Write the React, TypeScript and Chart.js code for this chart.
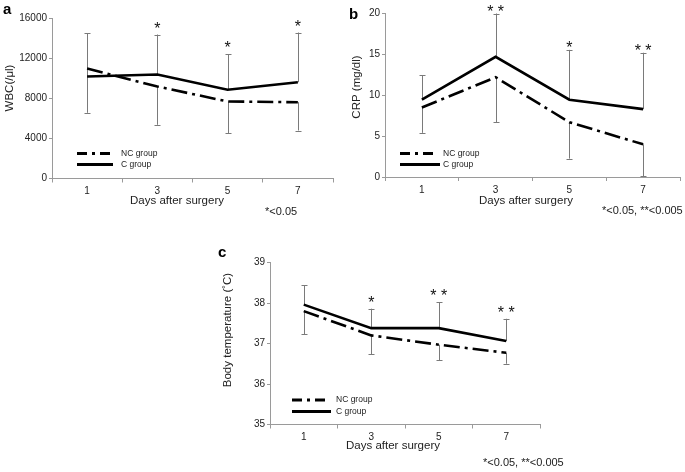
import { useEffect, useRef } from 'react';
import { Chart, registerables } from 'chart.js';

Chart.register(...registerables);
Chart.defaults.font.family = '"Liberation Sans", Arial, sans-serif';

// ---- data ----
const days = ['1', '3', '5', '7'];
const groupNames = ['NC group', 'C group'];

// a: WBC
const wbcTicks = [0, 4000, 8000, 12000, 16000];
const wbcNC = [11000, 9200, 7700, 7630];
const wbcC = [10200, 10400, 8870, 9630];
const wbcNCSD = [4430, 3830, 3170, 2830];
const wbcCSD = [4330, 4000, 3560, 4970];
const wbcSig = ['', '*', '*', '*'];

// b: CRP
const crpTicks = [0, 5, 10, 15, 20];
const crpNC = [8.5, 12.2, 6.7, 4.0];
const crpC = [9.45, 14.7, 9.45, 8.3];
const crpNCSD = [3.1, 5.5, 4.45, 3.9];
const crpCSD = [3.0, 5.3, 6.1, 6.9];
const crpSig = ['', '**', '*', '**'];

// c: Body temperature
const tempTicks = [35, 36, 37, 38, 39];
const tempNC = [37.8, 37.2, 36.97, 36.77];
const tempC = [37.96, 37.38, 37.38, 37.06];
const tempNCSD = [0.57, 0.47, 0.38, 0.27];
const tempCSD = [0.48, 0.48, 0.64, 0.55];
const tempSig = ['', '*', '**', '**'];

const W = 685;
const H = 472;
const FONT = '"Liberation Sans", Arial, sans-serif';
const AXIS_GREY = '#9a9a9a';
const ERR_GREY = '#7a7a7a';
const TEXT = '#222';
const NC_DASH = [16, 5, 3, 5];
const NC_LEG_DASH = [10, 5, 3, 5];

type Panel = {
  tag: string;
  nc: number[];
  c: number[];
  ncSD: number[];
  cSD: number[];
  sig: string[];
  ticks: number[];
  yTitle: string;
  note: string;
  area: { l: number; t: number; r: number; b: number };
  yTitlePos: [number, number];
  xTitlePos: [number, number];
  notePos: [number, number];
  tagPos: [number, number];
  legend: { x1: number; x2: number; tx: number; y: number; gap: number };
  sigGap: number;
};

const panels: Panel[] = [
  {
    tag: 'a', nc: wbcNC, c: wbcC, ncSD: wbcNCSD, cSD: wbcCSD, sig: wbcSig, ticks: wbcTicks,
    yTitle: 'WBC(/μl)', note: '*<0.05',
    area: { l: 52, t: 18.5, r: 333, b: 178.5 },
    yTitlePos: [10, 88], xTitlePos: [177, 201], notePos: [265, 211.5], tagPos: [3, 10],
    legend: { x1: 77, x2: 110, tx: 121, y: 153.5, gap: 11 }, sigGap: 10,
  },
  {
    tag: 'b', nc: crpNC, c: crpC, ncSD: crpNCSD, cSD: crpCSD, sig: crpSig, ticks: crpTicks,
    yTitle: 'CRP (mg/dl)', note: '*<0.05, **<0.005',
    area: { l: 385, t: 13.5, r: 680, b: 177 },
    yTitlePos: [357, 87], xTitlePos: [526, 201], notePos: [602, 211], tagPos: [349, 15],
    legend: { x1: 400, x2: 437, tx: 443, y: 153.5, gap: 11 }, sigGap: 6,
  },
  {
    tag: 'c', nc: tempNC, c: tempC, ncSD: tempNCSD, cSD: tempCSD, sig: tempSig, ticks: tempTicks,
    yTitle: 'Body temperature (˚C)', note: '*<0.05, **<0.005',
    area: { l: 270, t: 262.5, r: 540, b: 424.5 },
    yTitlePos: [228, 330], xTitlePos: [393, 446], notePos: [483, 463], tagPos: [218, 253],
    legend: { x1: 292, x2: 328, tx: 336, y: 400, gap: 11.5 }, sigGap: 10,
  },
];

function makeConfig(p: Panel): any {
  const YW = 40;
  const XH = 30;
  const deco = {
    id: 'deco' + p.tag,
    beforeDatasetsDraw(chart: any) {
      const ctx = chart.ctx;
      const xs = chart.scales.x;
      const ys = chart.scales.y;
      ctx.save();
      ctx.strokeStyle = ERR_GREY;
      ctx.lineWidth = 1;
      for (let i = 0; i < days.length; i++) {
        const x = Math.round(xs.getPixelForValue(i)) + 0.5;
        const c0 = ys.getPixelForValue(p.c[i]);
        const cTop = ys.getPixelForValue(p.c[i] + p.cSD[i]);
        const n0 = ys.getPixelForValue(p.nc[i]);
        const nBot = ys.getPixelForValue(p.nc[i] - p.ncSD[i]);
        ctx.beginPath();
        ctx.moveTo(x, c0);
        ctx.lineTo(x, cTop);
        ctx.moveTo(x - 3, Math.round(cTop) + 0.5);
        ctx.lineTo(x + 3, Math.round(cTop) + 0.5);
        ctx.moveTo(x, n0);
        ctx.lineTo(x, nBot);
        ctx.moveTo(x - 3, Math.round(nBot) + 0.5);
        ctx.lineTo(x + 3, Math.round(nBot) + 0.5);
        ctx.stroke();
      }
      ctx.restore();
    },
    afterDraw(chart: any) {
      const ctx = chart.ctx;
      const xs = chart.scales.x;
      const ys = chart.scales.y;
      ctx.save();
      // significance marks
      ctx.fillStyle = '#111';
      ctx.font = `16px ${FONT}`;
      ctx.textAlign = 'center';
      ctx.textBaseline = 'alphabetic';
      for (let i = 0; i < days.length; i++) {
        if (!p.sig[i]) continue;
        const x = xs.getPixelForValue(i);
        const top = ys.getPixelForValue(p.c[i] + p.cSD[i]);
        const txt = p.sig[i].split('').join(' ');
        ctx.fillText(txt, x, top - p.sigGap + 9);
      }
      // legend
      const ds = chart.data.datasets;
      ctx.font = `8.5px ${FONT}`;
      ctx.textAlign = 'left';
      ctx.textBaseline = 'middle';
      ds.forEach((d: any, k: number) => {
        const y = p.legend.y + k * p.legend.gap;
        ctx.save();
        ctx.strokeStyle = '#000';
        ctx.lineWidth = 3;
        ctx.setLineDash(k === 0 ? NC_LEG_DASH : []);
        ctx.beginPath();
        ctx.moveTo(p.legend.x1, y);
        ctx.lineTo(k === 0 ? p.legend.x2 : p.legend.x2 + 3, y);
        ctx.stroke();
        ctx.restore();
        ctx.fillStyle = TEXT;
        ctx.fillText(d.label, p.legend.tx, y);
      });
      // axis titles
      ctx.font = `11.5px ${FONT}`;
      ctx.fillStyle = TEXT;
      ctx.textAlign = 'center';
      ctx.textBaseline = 'middle';
      ctx.fillText('Days after surgery', p.xTitlePos[0], p.xTitlePos[1]);
      ctx.save();
      ctx.translate(p.yTitlePos[0], p.yTitlePos[1]);
      ctx.rotate(-Math.PI / 2);
      ctx.fillText(p.yTitle, 0, 0);
      ctx.restore();
      // note
      ctx.font = `11px ${FONT}`;
      ctx.textAlign = 'left';
      ctx.fillText(p.note, p.notePos[0], p.notePos[1]);
      // panel tag
      ctx.font = `bold 15px ${FONT}`;
      ctx.fillStyle = '#000';
      ctx.fillText(p.tag, p.tagPos[0], p.tagPos[1]);
      ctx.restore();
    },
  };

  return {
    type: 'line',
    data: {
      labels: days,
      datasets: [
        {
          label: groupNames[0], data: p.nc, borderColor: '#000', borderWidth: 2.6,
          borderDash: NC_DASH, pointRadius: 0, tension: 0, fill: false,
        },
        {
          label: groupNames[1], data: p.c, borderColor: '#000', borderWidth: 2.6,
          pointRadius: 0, tension: 0, fill: false,
        },
      ],
    },
    options: {
      responsive: false,
      animation: false,
      events: [],
      layout: {
        padding: {
          left: p.area.l - YW,
          top: p.area.t,
          right: W - p.area.r,
          bottom: H - p.area.b - XH,
        },
      },
      plugins: { legend: { display: false }, tooltip: { enabled: false }, title: { display: false } },
      scales: {
        x: {
          type: 'category',
          offset: true,
          grid: { display: true, offset: true, drawOnChartArea: false, drawTicks: true, tickLength: 4, color: AXIS_GREY },
          border: { display: true, color: AXIS_GREY, width: 1 },
          ticks: { color: TEXT, font: { size: 10 }, padding: 3, maxRotation: 0 },
          afterFit: (s: any) => { s.height = XH; },
        },
        y: {
          min: p.ticks[0],
          max: p.ticks[p.ticks.length - 1],
          afterBuildTicks: (s: any) => { s.ticks = p.ticks.map((v) => ({ value: v })); },
          grid: { display: true, drawOnChartArea: false, drawTicks: true, tickLength: 3, color: AXIS_GREY },
          border: { display: true, color: AXIS_GREY, width: 1 },
          ticks: { color: TEXT, font: { size: 10 }, padding: 2, callback: (v: any) => String(v) },
          afterFit: (s: any) => { s.width = YW; },
        },
      },
    },
    plugins: [deco],
  };
}

function PanelChart({ p }: { p: Panel }) {
  const ref = useRef<HTMLCanvasElement | null>(null);
  useEffect(() => {
    if (!ref.current) return;
    const chart = new Chart(ref.current, makeConfig(p));
    return () => chart.destroy();
  }, [p]);
  return (
    <canvas
      ref={ref}
      width={W}
      height={H}
      style={{ position: 'absolute', left: 0, top: 0, width: W, height: H }}
    />
  );
}

export default function App() {
  return (
    <div style={{ position: 'absolute', left: 0, top: 0, width: W, height: H, background: '#fff' }}>
      {panels.map((p) => (
        <PanelChart key={p.tag} p={p} />
      ))}
    </div>
  );
}
